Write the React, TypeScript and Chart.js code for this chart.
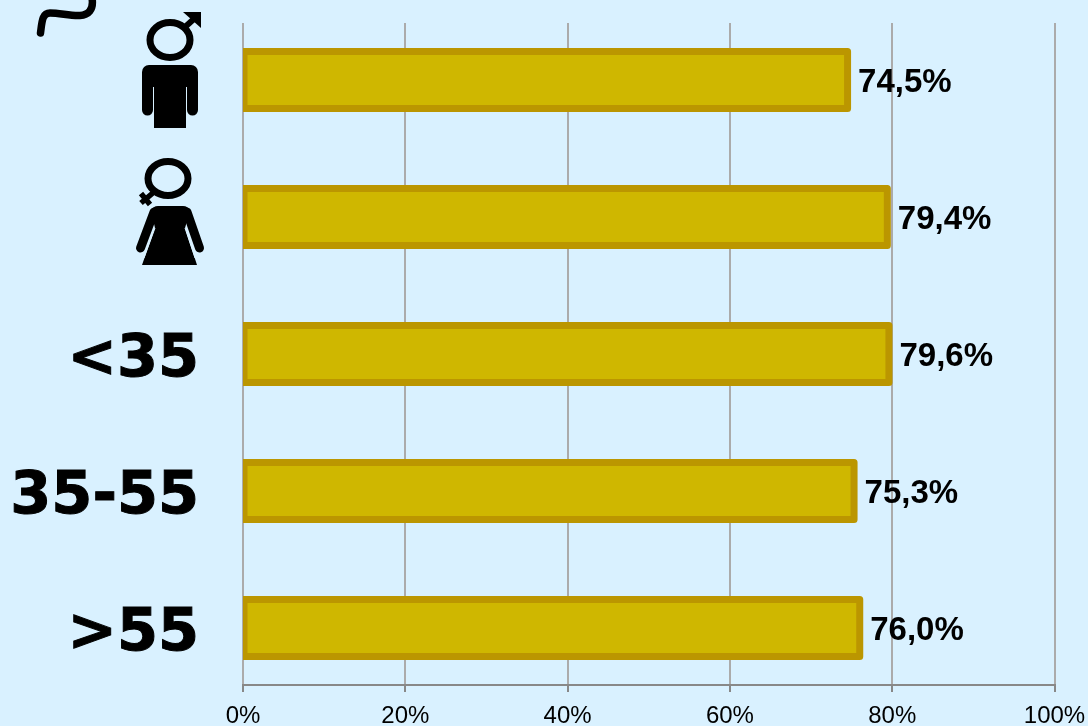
import React, { useEffect, useRef } from "react";
import { Chart, registerables } from "chart.js";

Chart.register(...registerables);

const categories = ["male", "female", "<35", "35-55", ">55"];
const tickLabels = ["", "", "<35", "35-55", ">55"];
const values = [74.5, 79.4, 79.6, 75.3, 76.0];
const xTicks = [0, 20, 40, 60, 80, 100];

const BG = "#D9F1FF";
const FILL = "#CFB700";
const EDGE = "#BB9600";

function maleIcon(c: CanvasRenderingContext2D, cy: number) {
  c.save();
  c.translate(0, cy - 80);
  c.strokeStyle = "#000";
  c.fillStyle = "#000";
  c.lineWidth = 7;
  c.beginPath();
  c.ellipse(170, 40, 20, 17.5, 0, 0, Math.PI * 2);
  c.stroke();
  c.lineWidth = 6;
  c.beginPath();
  c.moveTo(185, 27);
  c.lineTo(195, 18);
  c.stroke();
  c.beginPath();
  c.moveTo(183, 12);
  c.lineTo(201, 12);
  c.lineTo(201, 28);
  c.closePath();
  c.fill();
  c.beginPath();
  c.roundRect(142, 65, 56, 24, 7);
  c.fill();
  c.fillRect(154, 70, 32, 58);
  c.lineWidth = 11;
  c.lineCap = "round";
  c.beginPath();
  c.moveTo(147.5, 75);
  c.lineTo(147.5, 110);
  c.moveTo(192.5, 75);
  c.lineTo(192.5, 110);
  c.stroke();
  c.strokeStyle = BG;
  c.lineWidth = 1;
  c.lineCap = "butt";
  c.beginPath();
  c.moveTo(153.5, 87);
  c.lineTo(153.5, 116);
  c.moveTo(186.5, 87);
  c.lineTo(186.5, 116);
  c.stroke();
  c.restore();
}

function femaleIcon(c: CanvasRenderingContext2D, cy: number) {
  c.save();
  c.translate(0, cy - 217);
  c.strokeStyle = "#000";
  c.fillStyle = "#000";
  c.lineWidth = 7;
  c.beginPath();
  c.ellipse(168, 178.5, 20, 17, 0, 0, Math.PI * 2);
  c.stroke();
  c.lineWidth = 5.5;
  c.beginPath();
  c.moveTo(154, 192);
  c.lineTo(141, 203);
  c.moveTo(141, 193.5);
  c.lineTo(150, 204.5);
  c.stroke();
  c.beginPath();
  c.moveTo(158, 206);
  c.lineTo(183, 206);
  c.quadraticCurveTo(188, 206, 190, 211);
  c.lineTo(185, 228);
  c.lineTo(197, 265);
  c.lineTo(142, 265);
  c.lineTo(155, 228);
  c.lineTo(151, 211);
  c.quadraticCurveTo(153, 206, 158, 206);
  c.closePath();
  c.fill();
  c.lineCap = "round";
  c.lineWidth = 9;
  c.beginPath();
  c.moveTo(154, 212);
  c.lineTo(140.5, 248);
  c.moveTo(187, 212);
  c.lineTo(199.5, 248);
  c.stroke();
  c.strokeStyle = BG;
  c.lineWidth = 1;
  c.lineCap = "butt";
  c.beginPath();
  c.moveTo(155, 228);
  c.lineTo(144, 258);
  c.moveTo(185, 228);
  c.lineTo(195, 258);
  c.stroke();
  c.restore();
}

function tilde(c: CanvasRenderingContext2D) {
  c.save();
  c.strokeStyle = "#000";
  c.lineWidth = 7.5;
  c.lineCap = "round";
  c.beginPath();
  c.moveTo(40.5, 33);
  c.bezierCurveTo(42, 22, 42, 13, 50, 13);
  c.bezierCurveTo(60, 13, 70, 16, 80, 15.5);
  c.bezierCurveTo(88, 15, 94, 10, 92, -2);
  c.stroke();
  c.restore();
}

const decorPlugin = {
  id: "decor",
  afterDatasetDraw(chart: any) {
    const c = chart.ctx as CanvasRenderingContext2D;
    const area = chart.chartArea;
    const bars = chart.getDatasetMeta(0).data;
    c.save();
    c.beginPath();
    c.rect(area.left, 0, chart.width, chart.height);
    c.clip();
    c.strokeStyle = EDGE;
    c.lineWidth = 7;
    c.lineJoin = "round";
    bars.forEach((b: any) => {
      c.strokeRect(b.base, b.y - b.height / 2, b.x - b.base, b.height);
    });
    c.restore();
  },
  afterDraw(chart: any) {
    const c = chart.ctx as CanvasRenderingContext2D;
    const bars = chart.getDatasetMeta(0).data;
    c.save();
    c.fillStyle = "#000";
    c.font = "bold 33px 'Liberation Sans'";
    c.textAlign = "left";
    c.textBaseline = "middle";
    bars.forEach((b: any, i: number) => {
      const label = values[i].toFixed(1).replace(".", ",") + "%";
      c.fillText(label, b.x + 10.5, b.y + 3);
    });
    c.restore();
    const yScale = chart.scales.y;
    maleIcon(c, yScale.getPixelForValue(categories.indexOf("male")));
    femaleIcon(c, yScale.getPixelForValue(categories.indexOf("female")));
    tilde(c);
  },
};

export default function App() {
  const ref = useRef<HTMLCanvasElement>(null);
  useEffect(() => {
    document.body.style.margin = "0";
    document.body.style.background = BG;
    const chart = new Chart(ref.current!, {
      type: "bar",
      data: {
        labels: categories,
        datasets: [
          {
            data: values.map((v, i) => ({ x: v, y: i })),
            backgroundColor: FILL,
            borderWidth: 0,
            barThickness: 57,
          },
        ],
      },
      options: {
        indexAxis: "y",
        animation: false,
        responsive: false,
        devicePixelRatio: 1,
        layout: { padding: { top: 23, right: 33.5, left: 0, bottom: 0 } },
        plugins: { legend: { display: false }, tooltip: { enabled: false } },
        scales: {
          x: {
            type: "linear",
            min: 0,
            max: 100,
            afterBuildTicks(axis: any) {
              axis.ticks = xTicks.map((value) => ({ value }));
            },
            afterFit(axis: any) {
              axis.height = 41;
              axis.paddingLeft = 0;
              axis.paddingRight = 0;
            },
            border: { color: "#888888", width: 2 },
            grid: { color: "#ABABAB", lineWidth: 2, tickColor: "#888888", tickLength: 7 },
            ticks: {
              color: "#000",
              padding: 10,
              maxRotation: 0,
              autoSkip: false,
              font: { family: "'Liberation Sans'", size: 24 },
              callback: (v: any) => v + "%",
            },
          },
          y: {
            type: "linear",
            reverse: true,
            offset: false,
            min: -0.416,
            max: 4.416,
            afterBuildTicks(axis: any) {
              axis.ticks = categories.map((_, value) => ({ value }));
            },
            afterFit(axis: any) {
              axis.width = 243;
              axis.paddingTop = 0;
              axis.paddingBottom = 0;
            },
            border: { display: false },
            grid: { display: false, offset: false },
            ticks: {
              color: "#000",
              padding: 36,
              labelOffset: 7,
              autoSkip: false,
              textStrokeColor: "#000",
              textStrokeWidth: 1,
              font: { family: "'DejaVu Sans'", size: 59, weight: "bold" },
              callback: (v: any) => tickLabels[v] ?? "",
            },
          },
        },
      },
      plugins: [decorPlugin],
    } as any);
    return () => chart.destroy();
  }, []);
  return (
    <div style={{ width: 1088, height: 726, background: BG, overflow: "hidden" }}>
      <canvas ref={ref} width={1088} height={726} style={{ display: "block" }} />
    </div>
  );
}
